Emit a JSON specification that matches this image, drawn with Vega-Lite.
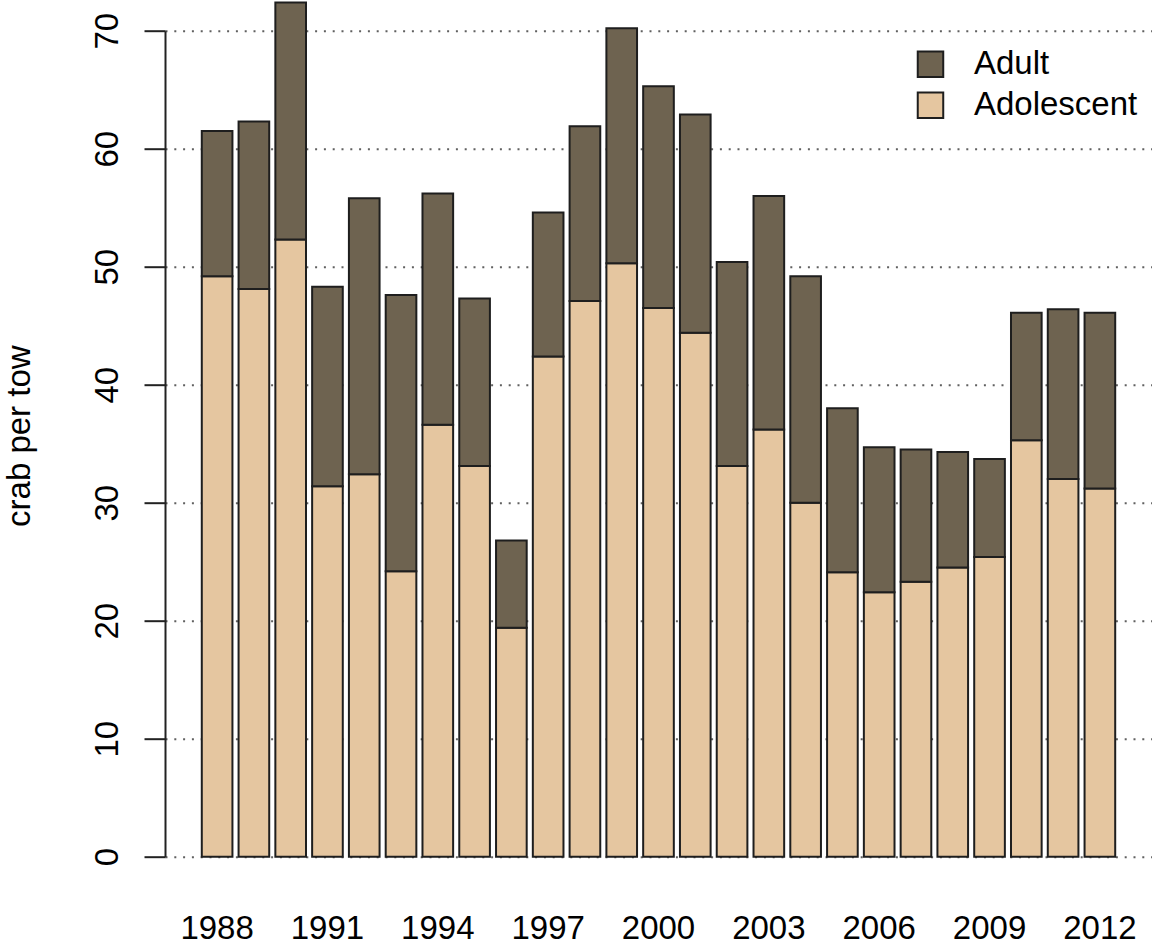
{
  "$schema": "https://vega.github.io/schema/vega-lite/v6.json",
  "autosize": "none",
  "width": 987,
  "height": 826,
  "padding": {"left": 165, "top": 30.7, "right": 0, "bottom": 90},
  "background": "white",
  "config": {
    "font": "Liberation Sans",
    "view": {"stroke": null},
    "axis": {"labelFont": "Liberation Sans", "titleFont": "Liberation Sans", "labelColor": "#000", "titleColor": "#000"}
  },
  "data": {
    "values": [
      {"year": 1988, "stage": "Adolescent", "value": 49.2}, {"year": 1988, "stage": "Adult", "value": 12.3},
      {"year": 1989, "stage": "Adolescent", "value": 48.1}, {"year": 1989, "stage": "Adult", "value": 14.2},
      {"year": 1990, "stage": "Adolescent", "value": 52.3}, {"year": 1990, "stage": "Adult", "value": 20.1},
      {"year": 1991, "stage": "Adolescent", "value": 31.4}, {"year": 1991, "stage": "Adult", "value": 16.9},
      {"year": 1992, "stage": "Adolescent", "value": 32.4}, {"year": 1992, "stage": "Adult", "value": 23.4},
      {"year": 1993, "stage": "Adolescent", "value": 24.2}, {"year": 1993, "stage": "Adult", "value": 23.4},
      {"year": 1994, "stage": "Adolescent", "value": 36.6}, {"year": 1994, "stage": "Adult", "value": 19.6},
      {"year": 1995, "stage": "Adolescent", "value": 33.1}, {"year": 1995, "stage": "Adult", "value": 14.2},
      {"year": 1996, "stage": "Adolescent", "value": 19.4}, {"year": 1996, "stage": "Adult", "value": 7.4},
      {"year": 1997, "stage": "Adolescent", "value": 42.4}, {"year": 1997, "stage": "Adult", "value": 12.2},
      {"year": 1998, "stage": "Adolescent", "value": 47.1}, {"year": 1998, "stage": "Adult", "value": 14.8},
      {"year": 1999, "stage": "Adolescent", "value": 50.3}, {"year": 1999, "stage": "Adult", "value": 19.9},
      {"year": 2000, "stage": "Adolescent", "value": 46.5}, {"year": 2000, "stage": "Adult", "value": 18.8},
      {"year": 2001, "stage": "Adolescent", "value": 44.4}, {"year": 2001, "stage": "Adult", "value": 18.5},
      {"year": 2002, "stage": "Adolescent", "value": 33.1}, {"year": 2002, "stage": "Adult", "value": 17.3},
      {"year": 2003, "stage": "Adolescent", "value": 36.2}, {"year": 2003, "stage": "Adult", "value": 19.8},
      {"year": 2004, "stage": "Adolescent", "value": 30.0}, {"year": 2004, "stage": "Adult", "value": 19.2},
      {"year": 2005, "stage": "Adolescent", "value": 24.1}, {"year": 2005, "stage": "Adult", "value": 13.9},
      {"year": 2006, "stage": "Adolescent", "value": 22.4}, {"year": 2006, "stage": "Adult", "value": 12.3},
      {"year": 2007, "stage": "Adolescent", "value": 23.3}, {"year": 2007, "stage": "Adult", "value": 11.2},
      {"year": 2008, "stage": "Adolescent", "value": 24.5}, {"year": 2008, "stage": "Adult", "value": 9.8},
      {"year": 2009, "stage": "Adolescent", "value": 25.4}, {"year": 2009, "stage": "Adult", "value": 8.3},
      {"year": 2010, "stage": "Adolescent", "value": 35.3}, {"year": 2010, "stage": "Adult", "value": 10.8},
      {"year": 2011, "stage": "Adolescent", "value": 32.0}, {"year": 2011, "stage": "Adult", "value": 14.4},
      {"year": 2012, "stage": "Adolescent", "value": 31.2}, {"year": 2012, "stage": "Adult", "value": 14.9}
    ]
  },
  "mark": {"type": "bar", "stroke": "#1e1e1e", "strokeWidth": 2},
  "encoding": {
    "x": {
      "field": "year",
      "type": "ordinal",
      "scale": {"paddingInner": 0.1667, "paddingOuter": 1.0},
      "axis": {
        "title": null,
        "values": [1988, 1991, 1994, 1997, 2000, 2003, 2006, 2009, 2012],
        "labelAngle": 0,
        "labelFontSize": 33,
        "labelBaseline": "alphabetic",
        "labelAlign": "center",
        "domain": false,
        "ticks": false,
        "tickSize": 0,
        "labelPadding": 82,
        "grid": false
      }
    },
    "y": {
      "field": "value",
      "type": "quantitative",
      "stack": "zero",
      "scale": {"domain": [0, 70], "nice": false, "zero": true},
      "axis": {
        "title": "crab per tow",
        "titleFontSize": 33,
        "titleFontWeight": "normal",
        "titleAngle": 270,
        "titleAlign": "center",
        "titleBaseline": "alphabetic",
        "titleX": -136,
        "titleY": 405,
        "values": [0, 10, 20, 30, 40, 50, 60, 70],
        "labelFontSize": 33,
        "labelAngle": 270,
        "labelAlign": "center",
        "labelBaseline": "alphabetic",
        "labelPadding": 27,
        "tickSize": 21,
        "tickWidth": 2,
        "tickColor": "#222",
        "domainColor": "#222",
        "domainWidth": 2,
        "grid": true,
        "gridColor": "#444",
        "gridWidth": 2,
        "gridDash": [2, 6.8],
        "gridOpacity": 0.85
      }
    },
    "color": {
      "field": "stage",
      "type": "nominal",
      "scale": {"domain": ["Adult", "Adolescent"], "range": ["#6e6350", "#e5c6a0"]},
      "legend": {
        "title": null,
        "orient": "none",
        "legendX": 749,
        "legendY": 17,
        "padding": 0,
        "symbolType": "square",
        "symbolSize": 650,
        "symbolStrokeColor": "#1e1e1e",
        "symbolStrokeWidth": 2,
        "symbolOpacity": 1,
        "labelFontSize": 33,
        "labelColor": "#000",
        "labelFont": "Liberation Sans",
        "labelLimit": 0,
        "labelOffset": 27,
        "rowPadding": 6
      }
    },
    "order": {"field": "stage", "sort": "ascending"}
  }
}
